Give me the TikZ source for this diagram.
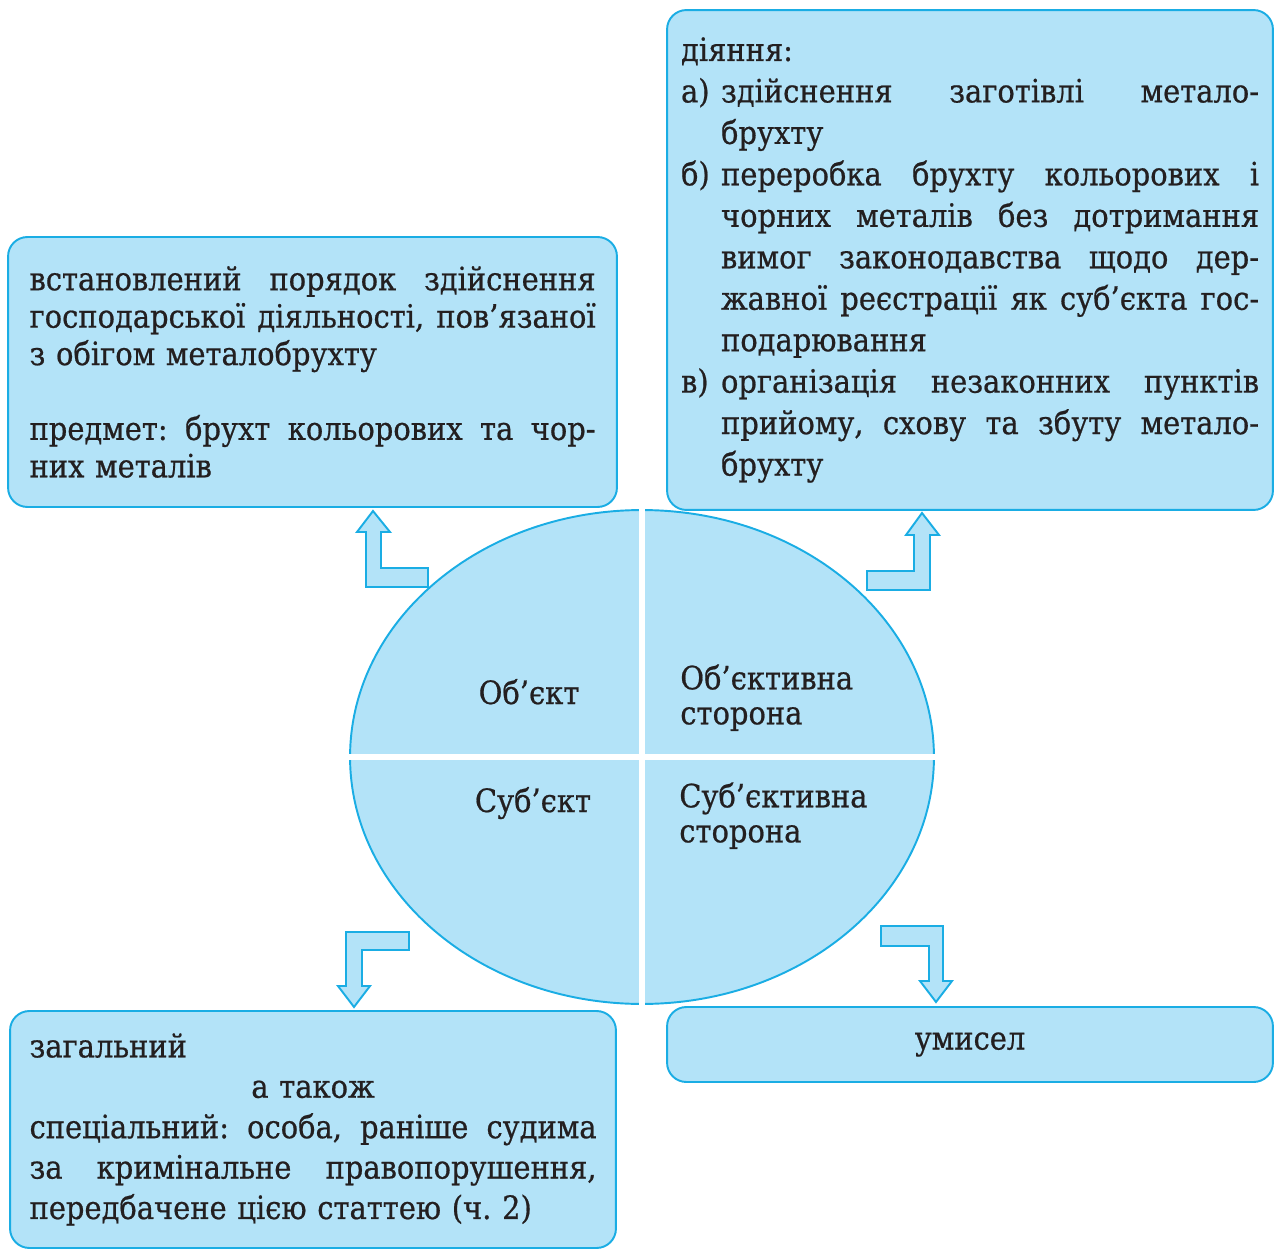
\documentclass[tikz,border=0pt]{standalone}
\usepackage{fontspec}
\setmainfont{DejaVu Serif Condensed}[FakeBold=0.6]
\usetikzlibrary{positioning,shapes.geometric}
\definecolor{pale}{HTML}{B3E3F8}
\definecolor{rim}{HTML}{1AADE4}
\definecolor{ink}{HTML}{231F20}
\frenchspacing
\newcommand\jl[1]{\makebox[\linewidth][s]{\spaceskip=0pt\xspaceskip=0pt\relax #1}}
\newcommand\il[3][s]{\makebox[0.8cm][l]{#2}%
 \makebox[10.76cm][#1]{\spaceskip=0pt\xspaceskip=0pt\relax #3}}

\begin{document}
\begin{tikzpicture}[x=0.02cm,y=-0.02cm,
 box/.style={draw=rim,line width=1.1pt,fill=pale,rounded corners=11pt,
 inner sep=0pt,align=left,text=ink,font=\fontsize{18.3}{23.6}\selectfont},
 lbl/.style={inner sep=0pt,align=left,text=ink,font=\fontsize{18.3}{19.9}\selectfont},
 blockarr/.style={draw=rim,line width=1.1pt,fill=pale},
 gap/.style={draw=white,line width=0.12cm}]
\useasboundingbox (0,0) rectangle (1275,1250);
\node[box,minimum width=12.18cm,minimum height=5.4cm,text width=11.32cm,
 font=\fontsize{18.3}{21.3}\selectfont] (obj) at (312.5,372)
 {\jl{встановлений порядок здійснення}\\
 \jl{господарської діяльності, пов’язаної}\\
 з обігом металобрухту\\[21.3pt]
 \jl{предмет: брухт кольорових та чор-}\\
 них металів};
\node[box,minimum width=12.12cm,minimum height=10cm,text width=11.56cm] (act) at (970,260)
 {діяння:\\
 \il{а)}{здійснення заготівлі метало-}\\
 \il[l]{}{брухту}\\
 \il{б)}{переробка брухту кольорових і}\\
 \il{}{чорних металів без дотримання}\\
 \il{}{вимог законодавства щодо дер-}\\
 \il{}{жавної реєстрації як суб’єкта гос-}\\
 \il[l]{}{подарювання}\\
 \il{в)}{організація незаконних пунктів}\\
 \il{}{прийому, схову та збуту метало-}\\
 \il[l]{}{брухту}};
\node[box,minimum width=12.12cm,minimum height=4.74cm,text width=11.34cm,
 font=\fontsize{18.3}{23}\selectfont] (who) at (313,1129.5)
 {загальний\\
 \makebox[\linewidth][c]{а також}\\
 \jl{спеціальний: особа, раніше судима}\\
 \jl{за кримінальне правопорушення,}\\
 передбачене цією статтею (ч.\ 2)};
\node[box,minimum width=12.12cm,minimum height=1.5cm,align=center] (intent) at (970,1044.5) {умисел};
\node[ellipse,draw=rim,line width=1.1pt,fill=pale,inner sep=0pt,
 minimum width=11.68cm,minimum height=9.88cm] (core) at (642,757) {};
\draw[gap] ([yshift=3pt]core.north) -- ([yshift=-3pt]core.south);
\draw[gap] ([xshift=-3pt]core.west) -- ([xshift=3pt]core.east);
\node[lbl,anchor=base] (objt) at (529,704) {Об’єкт};
\node[lbl,anchor=base] (subj) at (533,812) {Суб’єкт};
\node[lbl,anchor=north west] (objside) at (680,664) {Об’єктивна\\сторона};
\node[lbl,anchor=north west] (subjside) at (679,782) {Суб’єктивна\\сторона};
\draw[blockarr] (373,511) -- (390,532) -- (381,532) -- (381,568) -- (428,568)
 -- (428,587) -- (366,587) -- (366,532) -- (357,532) -- cycle;
\draw[blockarr] (922,513) -- (939,535) -- (930,535) -- (930,590) -- (867,590)
 -- (867,571) -- (914,571) -- (914,535) -- (906,535) -- cycle;
\draw[blockarr] (346,932) -- (409,932) -- (409,950) -- (362,950) -- (362,986)
 -- (370,986) -- (354,1007) -- (338,986) -- (346,986) -- cycle;
\draw[blockarr] (881,926) -- (943,926) -- (943,981) -- (952,981) -- (936,1002)
 -- (920,981) -- (929,981) -- (929,946) -- (881,946) -- cycle;
\end{tikzpicture}
\end{document}
